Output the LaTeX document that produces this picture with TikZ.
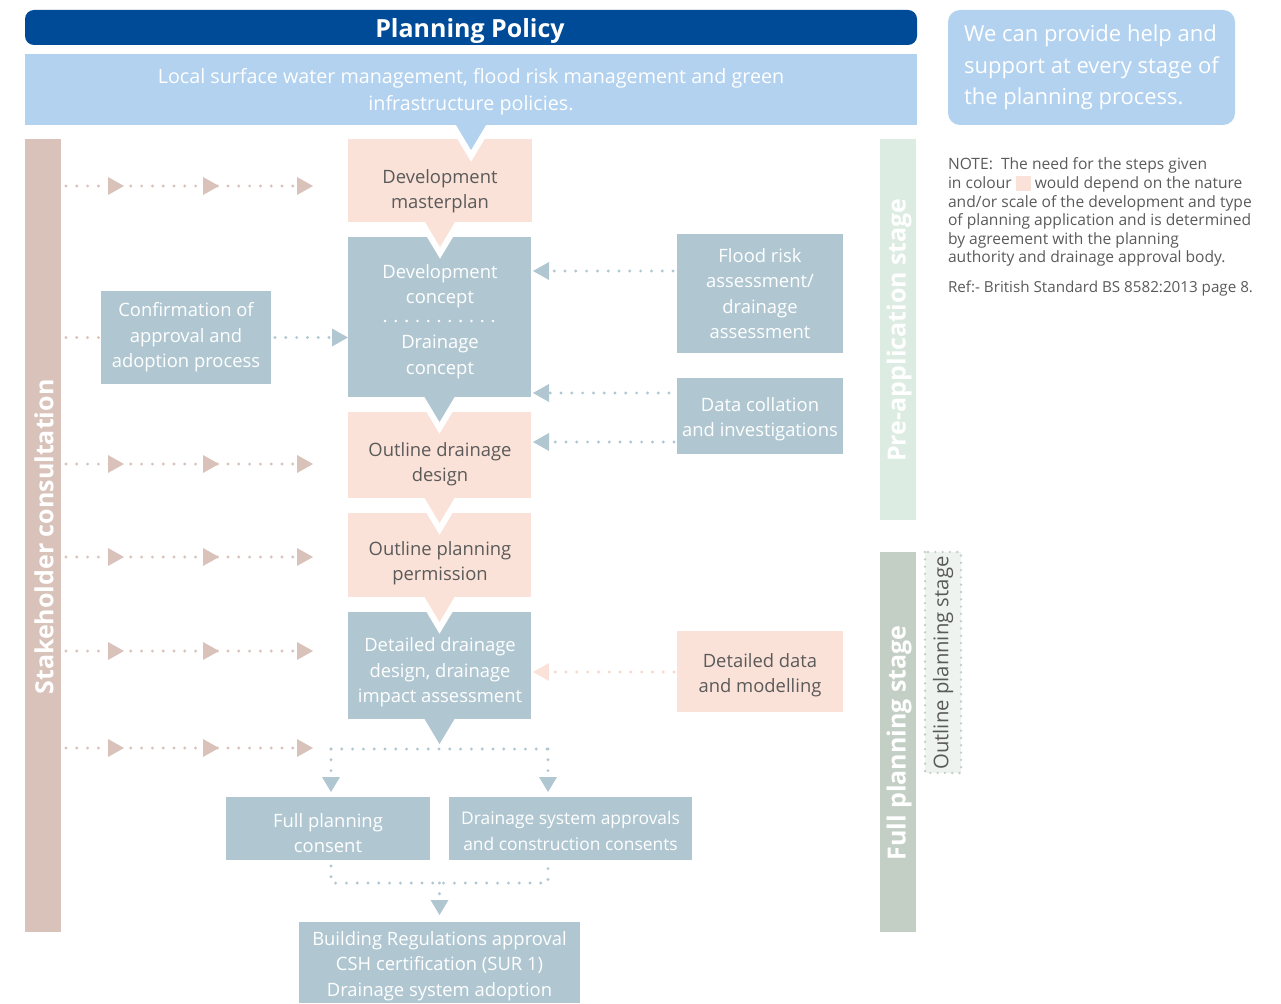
\documentclass[tikz,border=0pt]{standalone}
\usepackage{fontspec}
\setmainfont{Open Sans}
\usetikzlibrary{calc}
\definecolor{dblue}{HTML}{004B98}
\definecolor{polblue}{HTML}{B2D2EF}
\definecolor{bgray}{HTML}{B0C7D2}
\definecolor{peach}{HTML}{FBE2D8}
\definecolor{peachdot}{HTML}{F7D6C9}
\definecolor{tanc}{HTML}{D8C2B9}
\definecolor{pregreen}{HTML}{DCECE2}
\definecolor{fullgreen}{HTML}{C3CFC5}
\definecolor{outlbg}{HTML}{EFF3F0}
\definecolor{outldot}{HTML}{C3CFC5}
\definecolor{tgray}{HTML}{5A5A5A}
\newcommand{\boxfont}{\fontsize{18.4}{25.4}\selectfont}
\newcommand{\headR}[2]{\fill[#2] (#1) ++(-16,-9) -- ++(0,18) -- (#1) -- cycle;}
\newcommand{\headL}[2]{\fill[#2] (#1) ++(16,-9) -- ++(0,18) -- (#1) -- cycle;}
\newcommand{\headD}[2]{\fill[#2] (#1) ++(-9,-15) -- ++(18,0) -- (#1) -- cycle;}
\newcommand{\vtri}[2]{%
  \coordinate (vA) at ($(#1.south)+(-15,0)$);
  \coordinate (vB) at ($(#1.south)+(15,0)$);
  \coordinate (vT) at ($(#1.south)+(0,25)$);
  \draw[white, line width=12pt, miter limit=10] ($(vA)!0.45!(vT)$) -- (vT) -- ($(vB)!0.45!(vT)$);
  \fill[#2] (vA) -- (vB) -- (vT) -- cycle;}
\newcommand{\swatch}{\textcolor{peach}{\rule[-2.5pt]{15pt}{15pt}}}
\begin{document}
\begin{tikzpicture}[x=1pt,y=-1pt,
  every node/.style={inner sep=0pt, outer sep=0pt},
  rect/.style={anchor=north west, align=center, font=\boxfont},
  bgbox/.style={rect, fill=bgray, text=white},
  pkbox/.style={rect, fill=peach, text=tgray},
  btext/.style={font=\boxfont, align=center},
  bar/.style={anchor=north west, minimum width=36},
  bartext/.style={rotate=90, font=\fontsize{25}{28}\selectfont\bfseries, text=white},
  tandot/.style={draw=tanc, line width=3.2pt, line cap=round, dash pattern=on 0pt off 10.8pt},
  bludot/.style={tandot, draw=bgray},
  pkdot/.style={tandot, draw=peachdot},
  whdot/.style={tandot, draw=white, line width=2.8pt},
]
\useasboundingbox (0,0) rectangle (1281,1003);

% ---- top banners
\node[anchor=north west, fill=dblue, rounded corners=9pt, minimum width=892, minimum height=35] (banner) at (25,10) {};
\node[font=\fontsize{25}{28}\selectfont\bfseries, text=white] (bannert) at (470,31) {Planning Policy};
\node[rect, fill=polblue, minimum width=892, minimum height=71] (pol) at (25,54) {};
\node[align=center, text=white, font=\fontsize{19.7}{27}\selectfont] (polt) at (471,91.5)
      {Local surface water management, flood risk management and green\\infrastructure policies.};
\node[anchor=north west, fill=polblue, rounded corners=12pt, minimum width=287, minimum height=115,
      align=left, text=white, font=\fontsize{22}{31.5}\selectfont] (help) at (948,10)
      {We can provide help and\\support at every stage of\\the planning process.};

% ---- note
\node[anchor=north west, align=left, text=tgray, font=\fontsize{15.6}{18.6}\selectfont] (note) at (948,158)
  {NOTE:\ \ The need for the steps given\\in colour \swatch\ would depend on the nature\\and/or scale of the development and type\\of planning application and is determined\\by agreement with the planning\\authority and drainage approval body.};
\node[anchor=west, text=tgray, font=\fontsize{15.2}{18.6}\selectfont] (ref) at (948,289)
  {Ref:- British Standard BS 8582:2013 page 8.};

% ---- side bars
\node[bar, fill=tanc, minimum height=793] (sh) at (25,139) {};
\node[bartext] (shT) at (44,537) {Stakeholder consultation};
\node[bar, fill=pregreen, minimum height=381] (pre) at (880,139) {};
\node[bartext] (preT) at (899,330) {Pre-application stage};
\node[bar, fill=fullgreen, minimum height=380] (full) at (880,552) {};
\node[bartext] (fullT) at (899,743) {Full planning stage};
\node[bar, fill=outlbg, minimum height=221] (outl) at (925,552) {};
\draw[draw=outldot, line width=2.6pt, line cap=round, dash pattern=on 0pt off 7.3pt]
  (outl.north west) rectangle (outl.south east);
\node[rotate=90, text=tgray, font=\fontsize{20.3}{22}\selectfont] (outlT) at (943,663) {Outline planning stage};

% ---- central column
\node[pkbox, minimum width=184, minimum height=83] (m1) at (348,139) {};
\node[btext, text=tgray] (m1t) at (440,191) {Development\\masterplan};
\node[bgbox, minimum width=183, minimum height=160] (m2) at (348,237) {};
\node[btext, text=white] (m2a) at (440,286) {Development\\concept};
\node[btext, text=white] (m2b) at (440,357) {Drainage\\concept};
\draw[whdot] (385,321) -- (495,321);
\node[pkbox, minimum width=183, minimum height=86] (m3) at (348,412) {};
\node[btext, text=tgray] (m3t) at (440,464) {Outline drainage\\design};
\node[pkbox, minimum width=183, minimum height=84] (m4) at (348,513) {};
\node[btext, text=tgray] (m4t) at (440,563) {Outline planning\\permission};
\node[bgbox, minimum width=183, minimum height=107] (m5) at (348,612) {};
\node[btext, text=white] (m5t) at (440,672.5) {Detailed drainage\\design, drainage\\impact assessment};

\vtri{pol}{polblue}
\vtri{m1}{peach}
\vtri{m2}{bgray}
\vtri{m3}{peach}
\vtri{m4}{peach}
\vtri{m5}{bgray}

% ---- side boxes
\node[bgbox, minimum width=170, minimum height=93] (conf) at (101,291) {Confirmation of\\approval and\\adoption process};
\node[bgbox, minimum width=166, minimum height=119] (flood) at (677,234) {Flood risk\\assessment/\\drainage\\assessment};
\node[bgbox, minimum width=166, minimum height=76] (data) at (677,378) {};
\node[btext, text=white] (datat) at (760,419) {Data collation\\and investigations};
\node[pkbox, minimum width=166, minimum height=81] (ddm) at (677,631) {};
\node[btext, text=tgray] (ddmt) at (760,675) {Detailed data\\and modelling};

% ---- bottom boxes
\node[bgbox, minimum width=204, minimum height=63] (fpc) at (226,797) {};
\node[btext, text=white] (fpct) at (328,833) {Full planning\\consent};
\node[bgbox, minimum width=243, minimum height=63] (dsa) at (449,797) {};
\node[btext, text=white, font=\fontsize{17.4}{25.4}\selectfont] (dsat) at (570.5,831) {Drainage system approvals\\and construction consents};
\node[bgbox, minimum width=281, minimum height=81] (bra) at (299,922) {};
\node[btext, text=white] (brat) at (439.5,966) {Building Regulations approval\\CSH certification (SUR 1)\\Drainage system adoption};

% ---- left stakeholder arrows
\foreach \yy in {186,464,557,651,748} {
  \coordinate (e\yy) at (313,\yy);
  \draw[tandot] (sh.east |- e\yy) ++(5,0) -- (302,\yy);
  \foreach \xx in {124,219,313} { \headR{\xx,\yy}{tanc} }
}
\coordinate (cL) at (conf.west);
\draw[tandot] (sh.east |- cL) ++(5,0) -- (cL);
\coordinate (cR) at (m2.west |- conf.east);
\draw[bludot] (conf.east) ++(4,0) -- ($(cR)+(-14,0)$);
\headR{cR}{bgray}

% ---- right arrows
\coordinate (r1) at (533,271);
\draw[bludot] (flood.west |- r1) ++(-4,0) -- ($(r1)+(14,0)$);
\headL{r1}{bgray}
\coordinate (r2) at (533,393);
\draw[bludot] (data.west |- r2) ++(-8,0) -- ($(r2)+(14,0)$);
\headL{r2}{bgray}
\coordinate (r3) at (533,442);
\draw[bludot] (data.west |- r3) ++(-3,0) -- ($(r3)+(14,0)$);
\headL{r3}{bgray}
\coordinate (r4) at (533,672);
\draw[pkdot] (ddm.west |- r4) ++(-3,0) -- ($(r4)+(14,0)$);
\headL{r4}{peach}

% ---- bottom distribution
\coordinate (j1) at (331,749);
\coordinate (j2) at (548,749);
\draw[bludot] (j1) -- (j2);
\coordinate (t1) at ($(j1 |- fpc.north)+(0,-5)$);
\coordinate (t2) at ($(j2 |- dsa.north)+(0,-5)$);
\draw[bludot] (j1) -- ($(t1)+(0,-16)$);
\draw[bludot] (j2) -- ($(t2)+(0,-16)$);
\headD{t1}{bgray}
\headD{t2}{bgray}
\coordinate (k1) at ($(j1 |- fpc.south)+(0,6)$);
\coordinate (k2) at ($(j2 |- dsa.south)+(0,6)$);
\coordinate (b1) at (331,883);
\coordinate (b2) at (548,883);
\draw[bludot] (k1) -- (b1) -- (b2) -- (k2);
\coordinate (tb) at ($(bra.north)+(0,-7)$);
\draw[bludot] (tb |- b1) -- ($(tb)+(0,-16)$);
\headD{tb}{bgray}
\end{tikzpicture}
\end{document}
